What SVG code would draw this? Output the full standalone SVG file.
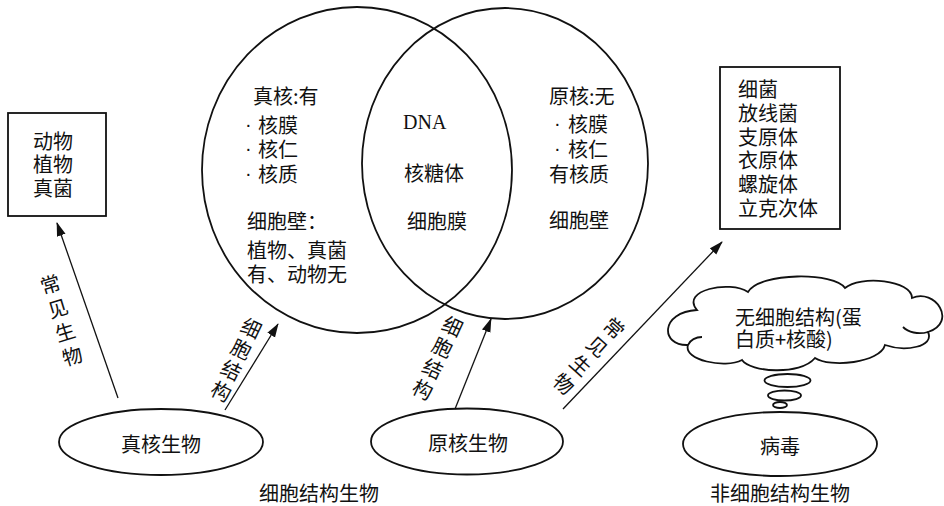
<svg xmlns="http://www.w3.org/2000/svg" width="944" height="506" viewBox="0 0 944 506">
<style>
  .t { font-family: "Noto Sans CJK SC", "Liberation Sans", sans-serif; font-size: 20px; fill: #111; dominant-baseline: central; }
  .c { text-anchor: middle; }
  .lat { font-family: "Liberation Serif", serif; font-size: 20px; fill: #111; dominant-baseline: central; }
  .dot { font-family: "Liberation Sans", sans-serif; font-size: 20px; fill: #111; dominant-baseline: central; }
  .shape { fill: none; stroke: #111; stroke-width: 1.8; }
  .conn { fill: none; stroke: #111; stroke-width: 1.3; marker-end: url(#ah); }
</style>
<defs>
  <marker id="ah" markerWidth="14" markerHeight="10" refX="13" refY="5" orient="auto" markerUnits="userSpaceOnUse">
    <path d="M0,0.5 L14,5 L0,9.5 Z" fill="#111"/>
  </marker>
</defs>
<rect width="944" height="506" fill="#fff"/>

<g id="venn-eukaryote">
  <ellipse class="shape" cx="357" cy="170" rx="155" ry="163"/>
  <text class="t" x="253" y="95">真核:有</text>
  <text class="dot" x="245" y="124">·</text>
  <text class="t" x="258" y="124">核膜</text>
  <text class="dot" x="245" y="148">·</text>
  <text class="t" x="258" y="148">核仁</text>
  <text class="dot" x="245" y="173">·</text>
  <text class="t" x="258" y="173">核质</text>
  <text class="t" x="247" y="220">细胞壁：</text>
  <text class="t" x="247" y="249">植物、真菌</text>
  <text class="t" x="247" y="273">有、动物无</text>
</g>

<g id="venn-prokaryote">
  <ellipse class="shape" cx="505" cy="163.5" rx="143" ry="155.5"/>
  <text class="t" x="549" y="95">原核:无</text>
  <text class="dot" x="554" y="123">·</text>
  <text class="t" x="568" y="123">核膜</text>
  <text class="dot" x="554" y="148">·</text>
  <text class="t" x="568" y="148">核仁</text>
  <text class="t" x="549" y="173">有核质</text>
  <text class="t" x="549" y="219">细胞壁</text>
</g>

<g id="venn-common">
  <text class="lat" x="403" y="122">DNA</text>
  <text class="t" x="404" y="172">核糖体</text>
  <text class="t" x="407" y="220">细胞膜</text>
</g>

<g id="box-eukaryote-examples">
  <rect class="shape" x="8" y="113" width="98" height="103" stroke-width="2"/>
  <text class="t" x="33" y="140">动物</text>
  <text class="t" x="33" y="163">植物</text>
  <text class="t" x="33" y="187">真菌</text>
</g>

<g id="box-prokaryote-examples">
  <rect class="shape" x="720" y="67" width="120" height="162" stroke-width="2"/>
  <text class="t" x="738" y="88">细菌</text>
  <text class="t" x="738" y="112">放线菌</text>
  <text class="t" x="738" y="136">支原体</text>
  <text class="t" x="738" y="159">衣原体</text>
  <text class="t" x="738" y="183">螺旋体</text>
  <text class="t" x="738" y="207">立克次体</text>
</g>

<g id="node-eukaryote">
  <ellipse class="shape" cx="161" cy="442" rx="102" ry="33"/>
  <text class="t c" x="161" y="443">真核生物</text>
</g>

<g id="node-prokaryote">
  <ellipse class="shape" cx="467" cy="441.5" rx="96" ry="33"/>
  <text class="t c" x="468" y="442">原核生物</text>
</g>

<g id="node-virus">
  <ellipse class="shape" cx="780" cy="444" rx="97" ry="32"/>
  <text class="t c" x="780" y="445">病毒</text>
</g>

<g id="cloud-virus">
  <path class="shape" d="M 697,310 C 680,290 730,280 748,292 C 760,272 835,272 845,288 C 860,275 912,280 912,298 C 935,288 958,322 928,332 C 935,347 905,352 885,345 C 880,363 830,368 815,358 C 800,376 750,372 742,360 C 725,369 683,360 688,345 C 660,346 660,312 697,310 Z"/>
  <path class="shape" d="M 688,345 C 690,340 696,337 702,337"/>
  <path class="shape" d="M 928,332 C 918,335 908,332 903,327"/>
  <ellipse class="shape" cx="787.5" cy="380.5" rx="23" ry="6.5"/>
  <ellipse class="shape" cx="784.5" cy="395.5" rx="16.5" ry="5"/>
  <ellipse class="shape" cx="780" cy="405" rx="7" ry="3"/>
  <text class="t" x="735" y="316">无细胞结构(蛋</text>
  <text class="t" x="735" y="338">白质+核酸)</text>
</g>

<g id="connectors">
  <line class="conn" x1="118" y1="398" x2="57" y2="223"/>
  <line class="conn" x1="225" y1="410" x2="278" y2="324"/>
  <line class="conn" x1="455" y1="409" x2="491" y2="319"/>
  <line class="conn" x1="563" y1="409" x2="722" y2="242"/>
  <g transform="translate(50,283) rotate(-17)">
    <text class="t c"><tspan x="0" y="0">常</tspan><tspan x="0" y="25">见</tspan><tspan x="0" y="50">生</tspan><tspan x="0" y="75">物</tspan></text>
  </g>
  <g transform="translate(252,327) rotate(25.5)">
    <text class="t c"><tspan x="0" y="0">细</tspan><tspan x="0" y="23.3">胞</tspan><tspan x="0" y="46.6">结</tspan><tspan x="0" y="70">构</tspan></text>
  </g>
  <g transform="translate(453,325) rotate(25)">
    <text class="t c"><tspan x="0" y="0">细</tspan><tspan x="0" y="23.3">胞</tspan><tspan x="0" y="46.6">结</tspan><tspan x="0" y="70">构</tspan></text>
  </g>
  <g transform="translate(615,327) rotate(42)">
    <text class="t c"><tspan x="0" y="0">常</tspan><tspan x="0" y="25">见</tspan><tspan x="0" y="50">生</tspan><tspan x="0" y="75">物</tspan></text>
  </g>
</g>

<g id="labels">
  <text class="t c" x="319" y="492">细胞结构生物</text>
  <text class="t c" x="780" y="492">非细胞结构生物</text>
</g>
</svg>
